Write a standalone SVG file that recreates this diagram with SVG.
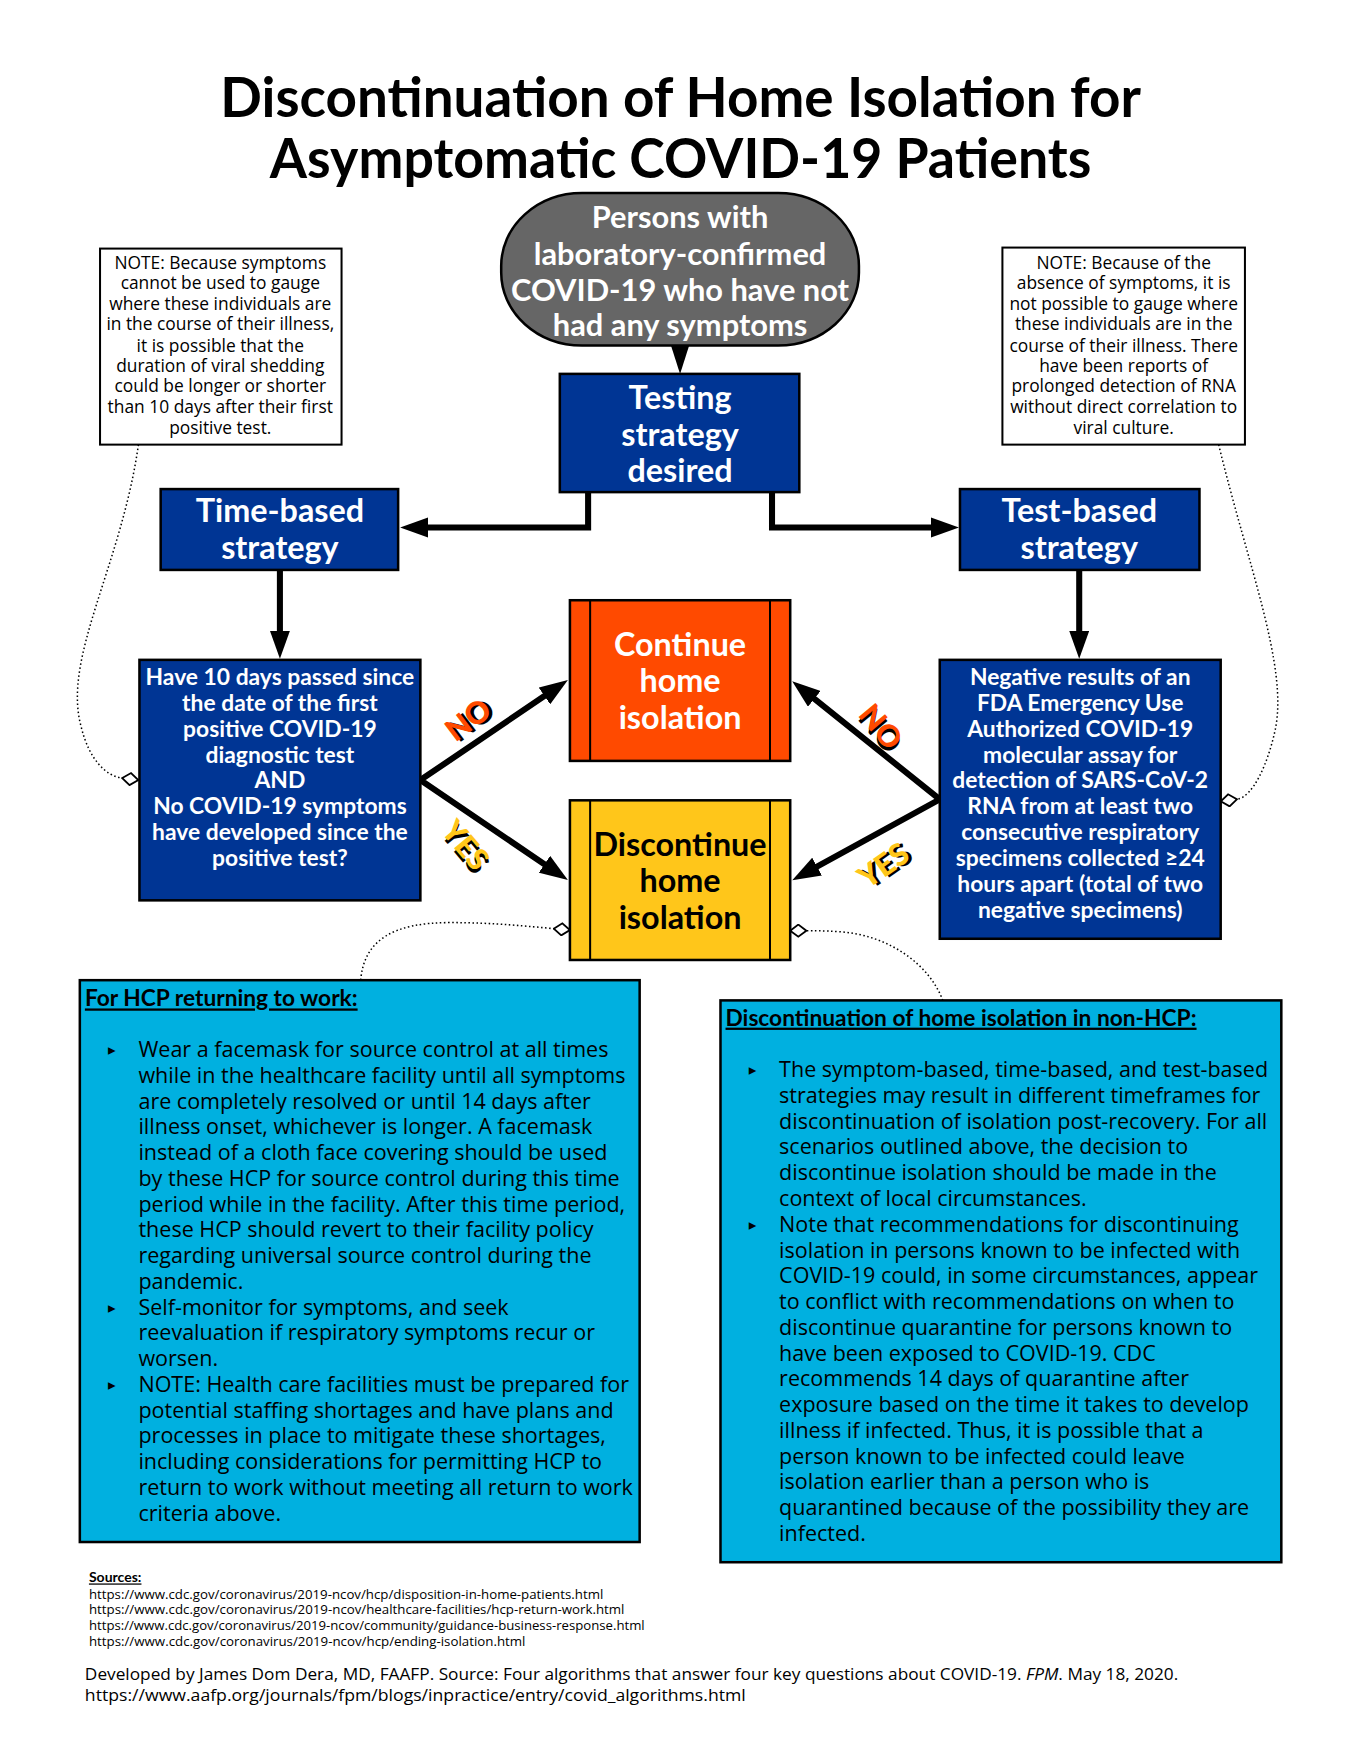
<svg xmlns="http://www.w3.org/2000/svg" width="1360" height="1760" viewBox="0 0 1360 1760">
<style>
.b{font-family:Lato,"Noto Sans",sans-serif;font-weight:bold}
.r{font-family:"Open Sans","Noto Sans",sans-serif}
.w{fill:#fff}
.k{fill:#000}
.c{text-anchor:middle}
.big{font-size:32px}
.mid{font-size:22.6px}
.note{font-size:17.2px}
.body{font-size:21.3px}
.head{font-size:22.5px;text-decoration:underline}
.blue{fill:#003594;stroke:#000;stroke-width:2.5}
.box{stroke:#000;stroke-width:2.5}
.arrow{fill:none;stroke:#000;stroke-width:6;stroke-linejoin:miter}
.dot{fill:none;stroke:#000;stroke-width:1.5;stroke-dasharray:1.5 2.5}
.lbl{font-family:Lato,"Noto Sans",sans-serif;font-weight:900;font-size:30px;text-anchor:middle}
.bul{font-family:"DejaVu Sans",sans-serif;font-size:15px}
</style>
<defs>
<marker id="ah" markerUnits="userSpaceOnUse" viewBox="0 0 28 20" markerWidth="28" markerHeight="20" refX="14" refY="10" orient="auto-start-reverse">
<path d="M0,0 L28,10 L0,20 z" fill="#000"/>
</marker>
<marker id="dm" markerUnits="userSpaceOnUse" viewBox="-1 -1 18 14" markerWidth="18" markerHeight="14" refX="0" refY="6" orient="auto">
<path d="M0,6 L8,0 L16,6 L8,12 z" fill="#fff" stroke="#000" stroke-width="1.8"/>
</marker>
</defs>
<rect width="1360" height="1760" fill="#fff"/>
<g transform="scale(1.0105)">

<g id="title">
<text class="b" x="218" y="116" font-size="55" font-weight="900" textLength="911" lengthAdjust="spacingAndGlyphs">Discontinuation of Home Isolation for</text>
<text class="b" x="267" y="176" font-size="55" font-weight="900" textLength="813" lengthAdjust="spacingAndGlyphs">Asymptomatic COVID-19 Patients</text>
</g>

<g id="connectors">
<polygon points="664,342 682,342 673,370" fill="#000"/>
<path class="arrow" d="M582,485 L582,522 L410,522" marker-end="url(#ah)"/>
<path class="arrow" d="M764,485 L764,522 L935,522" marker-end="url(#ah)"/>
<path class="arrow" d="M277,562 L277,638" marker-end="url(#ah)"/>
<path class="arrow" d="M1068,562 L1068,638" marker-end="url(#ah)"/>
<path class="arrow" d="M550.4,680.9 L416,772 L550.4,863.1" marker-start="url(#ah)" marker-end="url(#ah)"/>
<path class="arrow" d="M794.9,682.8 L930,791 L796.3,864.3" marker-start="url(#ah)" marker-end="url(#ah)"/>
<path class="dot" d="M137,440 C120,560 62,650 80,718 C88,752 105,768 121,770" marker-end="url(#dm)"/>
<path class="dot" d="M1206,440 C1235,560 1275,660 1262,722 C1255,755 1240,789 1224,791" marker-end="url(#dm)"/>
<path class="dot" d="M357,970 C360,930 390,913 445,913 C490,913 525,917 548,919" marker-end="url(#dm)"/>
<path class="dot" d="M933,990 C920,955 880,925 830,922 C815,921 805,921 798,921" marker-end="url(#dm)"/>
</g>

<g id="labels">
<g transform="translate(463,712) rotate(-37)"><text class="lbl k" x="2.5" y="13.5">NO</text><text class="lbl" fill="#FF4A00" x="0" y="11">NO</text></g>
<g transform="translate(461,836) rotate(50)"><text class="lbl k" x="2.5" y="13.5">YES</text><text class="lbl" fill="#FFC61A" x="0" y="11">YES</text></g>
<g transform="translate(872,719) rotate(50)"><text class="lbl k" x="2.5" y="13.5">NO</text><text class="lbl" fill="#FF4A00" x="0" y="11">NO</text></g>
<g transform="translate(874,856) rotate(-35)"><text class="lbl k" x="2.5" y="13.5">YES</text><text class="lbl" fill="#FFC61A" x="0" y="11">YES</text></g>
</g>

<g id="start">
<rect x="496" y="191" width="354" height="151" rx="80" ry="72" fill="#666" stroke="#000" stroke-width="2.5"/>
<text class="b w c" font-size="30.5"><tspan x="673" y="226">Persons with</tspan><tspan x="673" y="262">laboratory-confirmed</tspan><tspan x="673" y="298">COVID-19 who have not</tspan><tspan x="673" y="333">had any symptoms</tspan></text>
</g>

<g id="testing">
<rect class="blue" x="554" y="370" width="237" height="117"/>
<text class="b w c big"><tspan x="673" y="405">Testing</tspan><tspan x="673" y="441">strategy</tspan><tspan x="673" y="477">desired</tspan></text>
</g>

<g id="note-left">
<rect x="99" y="246" width="239" height="194" fill="#fff" stroke="#000" stroke-width="2"/>
<text class="r note c"><tspan x="218" y="266">NOTE: Because symptoms</tspan><tspan x="218" y="286">cannot be used to gauge</tspan><tspan x="218" y="307">where these individuals are</tspan><tspan x="218" y="327">in the course of their illness,</tspan><tspan x="218" y="348">it is possible that the</tspan><tspan x="218" y="368">duration of viral shedding</tspan><tspan x="218" y="388">could be longer or shorter</tspan><tspan x="218" y="409">than 10 days after their first</tspan><tspan x="218" y="429">positive test.</tspan></text>
</g>

<g id="note-right">
<rect x="992" y="245" width="240" height="195" fill="#fff" stroke="#000" stroke-width="2"/>
<text class="r note c"><tspan x="1112" y="266">NOTE: Because of the</tspan><tspan x="1112" y="286">absence of symptoms, it is</tspan><tspan x="1112" y="307">not possible to gauge where</tspan><tspan x="1112" y="327">these individuals are in the</tspan><tspan x="1112" y="348">course of their illness. There</tspan><tspan x="1112" y="368">have been reports of</tspan><tspan x="1112" y="388">prolonged detection of RNA</tspan><tspan x="1112" y="409">without direct correlation to</tspan><tspan x="1112" y="429">viral culture.</tspan></text>
</g>

<g id="time-based">
<rect class="blue" x="159" y="484" width="235" height="80"/>
<text class="b w c big"><tspan x="277" y="517">Time-based</tspan><tspan x="277" y="553">strategy</tspan></text>
</g>

<g id="test-based">
<rect class="blue" x="950" y="484" width="237" height="80"/>
<text class="b w c big"><tspan x="1068" y="517">Test-based</tspan><tspan x="1068" y="553">strategy</tspan></text>
</g>

<g id="time-question">
<rect class="blue" x="138" y="653" width="278" height="238"/>
<text class="b w c mid"><tspan x="277" y="678">Have 10 days passed since</tspan><tspan x="277" y="704">the date of the first</tspan><tspan x="277" y="729">positive COVID-19</tspan><tspan x="277" y="755">diagnostic test</tspan><tspan x="277" y="780">AND</tspan><tspan x="277" y="806">No COVID-19 symptoms</tspan><tspan x="277" y="831">have developed since the</tspan><tspan x="277" y="857">positive test?</tspan></text>
</g>

<g id="test-question">
<rect class="blue" x="930" y="653" width="278" height="276"/>
<text class="b w c mid"><tspan x="1069" y="678">Negative results of an</tspan><tspan x="1069" y="704">FDA Emergency Use</tspan><tspan x="1069" y="729">Authorized COVID-19</tspan><tspan x="1069" y="755">molecular assay for</tspan><tspan x="1069" y="780">detection of SARS-CoV-2</tspan><tspan x="1069" y="806">RNA from at least two</tspan><tspan x="1069" y="831">consecutive respiratory</tspan><tspan x="1069" y="857">specimens collected ≥24</tspan><tspan x="1069" y="883">hours apart (total of two</tspan><tspan x="1069" y="908">negative specimens)</tspan></text>
</g>

<g id="continue">
<rect class="box" x="564" y="594" width="218" height="159" fill="#FF4A00"/>
<line x1="584" y1="594" x2="584" y2="753" stroke="#000" stroke-width="2"/>
<line x1="762" y1="594" x2="762" y2="753" stroke="#000" stroke-width="2"/>
<text class="b w c big"><tspan x="673" y="649">Continue</tspan><tspan x="673" y="685">home</tspan><tspan x="673" y="721">isolation</tspan></text>
</g>

<g id="discontinue">
<rect class="box" x="564" y="792" width="218" height="158" fill="#FFC61A"/>
<line x1="584" y1="792" x2="584" y2="950" stroke="#000" stroke-width="2"/>
<line x1="762" y1="792" x2="762" y2="950" stroke="#000" stroke-width="2"/>
<text class="b k c big"><tspan x="673" y="847">Discontinue</tspan><tspan x="673" y="883">home</tspan><tspan x="673" y="919">isolation</tspan></text>
</g>

<g id="hcp">
<rect class="box" x="79" y="970" width="554" height="556" fill="#00B0E0"/>
<text class="b head" x="84" y="996">For HCP returning to work:</text>
<text class="bul"><tspan x="107" y="1044">▸</tspan><tspan x="107" y="1299">▸</tspan><tspan x="107" y="1376">▸</tspan></text>
<text class="r body"><tspan x="137" y="1046">Wear a facemask for source control at all times</tspan><tspan x="137" y="1071.5">while in the healthcare facility until all symptoms</tspan><tspan x="137" y="1097">are completely resolved or until 14 days after</tspan><tspan x="137" y="1122.5">illness onset, whichever is longer. A facemask</tspan><tspan x="137" y="1148">instead of a cloth face covering should be used</tspan><tspan x="137" y="1173.5">by these HCP for source control during this time</tspan><tspan x="137" y="1199">period while in the facility. After this time period,</tspan><tspan x="137" y="1224.5">these HCP should revert to their facility policy</tspan><tspan x="137" y="1250">regarding universal source control during the</tspan><tspan x="137" y="1275.5">pandemic.</tspan><tspan x="137" y="1301">Self-monitor for symptoms, and seek</tspan><tspan x="137" y="1326.5">reevaluation if respiratory symptoms recur or</tspan><tspan x="137" y="1352">worsen.</tspan><tspan x="137" y="1377.5">NOTE: Health care facilities must be prepared for</tspan><tspan x="137" y="1403">potential staffing shortages and have plans and</tspan><tspan x="137" y="1428.5">processes in place to mitigate these shortages,</tspan><tspan x="137" y="1454">including considerations for permitting HCP to</tspan><tspan x="137" y="1479.5">return to work without meeting all return to work</tspan><tspan x="137" y="1505">criteria above.</tspan></text>
</g>

<g id="non-hcp">
<rect class="box" x="713" y="990" width="555" height="556" fill="#00B0E0"/>
<text class="b head" x="718" y="1015">Discontinuation of home isolation in non-HCP:</text>
<text class="bul"><tspan x="741" y="1064">▸</tspan><tspan x="741" y="1217">▸</tspan></text>
<text class="r body"><tspan x="771" y="1066">The symptom-based, time-based, and test-based</tspan><tspan x="771" y="1091.5">strategies may result in different timeframes for</tspan><tspan x="771" y="1117">discontinuation of isolation post-recovery. For all</tspan><tspan x="771" y="1142.5">scenarios outlined above, the decision to</tspan><tspan x="771" y="1168">discontinue isolation should be made in the</tspan><tspan x="771" y="1193.5">context of local circumstances.</tspan><tspan x="771" y="1219">Note that recommendations for discontinuing</tspan><tspan x="771" y="1244.5">isolation in persons known to be infected with</tspan><tspan x="771" y="1270">COVID-19 could, in some circumstances, appear</tspan><tspan x="771" y="1295.5">to conflict with recommendations on when to</tspan><tspan x="771" y="1321">discontinue quarantine for persons known to</tspan><tspan x="771" y="1346.5">have been exposed to COVID-19. CDC</tspan><tspan x="771" y="1372">recommends 14 days of quarantine after</tspan><tspan x="771" y="1397.5">exposure based on the time it takes to develop</tspan><tspan x="771" y="1423">illness if infected. Thus, it is possible that a</tspan><tspan x="771" y="1448.5">person known to be infected could leave</tspan><tspan x="771" y="1474">isolation earlier than a person who is</tspan><tspan x="771" y="1499.5">quarantined because of the possibility they are</tspan><tspan x="771" y="1525">infected.</tspan></text>
</g>

<g id="sources">
<text class="b" x="88" y="1566" font-size="12.5" text-decoration="underline" textLength="52" lengthAdjust="spacingAndGlyphs">Sources:</text>
<text class="r" x="88" y="1582" font-size="12" textLength="509" lengthAdjust="spacingAndGlyphs">https://www.cdc.gov/coronavirus/2019-ncov/hcp/disposition-in-home-patients.html</text>
<text class="r" x="88" y="1597.5" font-size="12" textLength="530" lengthAdjust="spacingAndGlyphs">https://www.cdc.gov/coronavirus/2019-ncov/healthcare-facilities/hcp-return-work.html</text>
<text class="r" x="88" y="1613" font-size="12" textLength="550" lengthAdjust="spacingAndGlyphs">https://www.cdc.gov/coronavirus/2019-ncov/community/guidance-business-response.html</text>
<text class="r" x="88" y="1628.5" font-size="12" textLength="432" lengthAdjust="spacingAndGlyphs">https://www.cdc.gov/coronavirus/2019-ncov/hcp/ending-isolation.html</text>
</g>

<g id="credit">
<text class="r" x="84" y="1663" font-size="16.5" textLength="1082" lengthAdjust="spacingAndGlyphs">Developed by James Dom Dera, MD, FAAFP. Source: Four algorithms that answer four key questions about COVID-19. <tspan font-style="italic">FPM</tspan>. May 18, 2020.</text>
<text class="r" x="84" y="1683" font-size="16.5" textLength="654" lengthAdjust="spacingAndGlyphs">https://www.aafp.org/journals/fpm/blogs/inpractice/entry/covid_algorithms.html</text>
</g>
</g>
</svg>
